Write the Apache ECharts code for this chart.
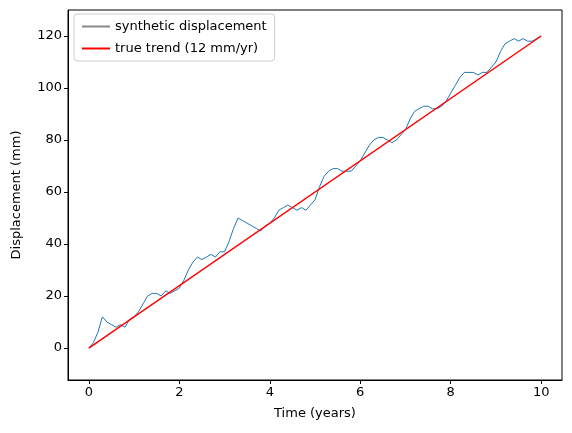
<!DOCTYPE html><html><head><meta charset="utf-8">
<script src="https://cdn.jsdelivr.net/npm/echarts@6/dist/echarts.min.js"></script>
<style>html,body{margin:0;padding:0;background:#fff}#c{width:572px;height:433px}</style></head><body><div id="c"></div>
<script>
const times = [];
for (let i = 0; i <= 100; i++) times.push(+(i/10).toFixed(1));
const displacement = [0,2,6,12,10,9,8,9,8,11,
12,14,17,20,21,21,20,22,21,22,
23,26,30,33,35,34,35,36,35,37,
37,41,46,50,49,48,47,46,45,47,
48,50,53,54,55,54,53,54,53,55,
57,62,66,68,69,69,68,68,68,70,
72,75,78,80,81,81,80,79,80,82,
84,88,91,92,93,93,92,92,93,95,
98,101,104,106,106,106,105,106,106,108,
110,114,117,118,119,118,119,118,118,119,120];
const trendX = [0,10];
const trendY = [0,120];
const xTicks = [0,2,4,6,8,10];
const yTicks = [0,20,40,60,80,100,120];
const ch = echarts.init(document.getElementById('c'));
const font = 'DejaVu Sans';
ch.setOption({
  animation:false,
  textStyle:{fontFamily:font},
  grid:{left:68,right:10,top:10,bottom:53,show:true,borderColor:'#000',borderWidth:1},
  legend:{left:74,top:14,orient:'vertical',itemGap:9,padding:[6,8,6,8],borderColor:'#ccc',borderWidth:1,borderRadius:3,
    itemWidth:28,itemHeight:2,icon:'rect',textStyle:{fontFamily:font,fontSize:13,color:'#000'},
    data:[{name:'synthetic displacement',itemStyle:{color:'#888'}},{name:'true trend (12 mm/yr)',itemStyle:{color:'#ff0000'}}]},
  xAxis:{type:'value',min:-0.46,max:10.46,name:'Time (years)',nameLocation:'middle',nameGap:27,
    nameTextStyle:{fontFamily:font,fontSize:13,color:'#000'},
    axisLine:{onZero:false,lineStyle:{color:'#000'}},splitLine:{show:false},
    axisTick:{customValues:xTicks,length:4,lineStyle:{color:'#000'}},
    axisLabel:{customValues:xTicks,color:'#000',fontSize:13,fontFamily:font,margin:6}},
  yAxis:{type:'value',min:-12.3,max:130,name:'Displacement (mm)',nameLocation:'middle',nameGap:45,
    nameTextStyle:{fontFamily:font,fontSize:13,color:'#000'},
    axisLine:{show:true,onZero:false,lineStyle:{color:'#000'}},splitLine:{show:false},
    axisTick:{show:true,length:4,customValues:yTicks,lineStyle:{color:'#000'}},
    axisLabel:{customValues:yTicks,color:'#000',fontSize:13,fontFamily:font,margin:6}},
  series:[
    {name:'synthetic displacement',type:'line',symbol:'none',color:'#1f77b4',lineStyle:{width:1,color:'#1f77b4'},
      data:times.map((t,i)=>[t,displacement[i]])},
    {name:'true trend (12 mm/yr)',type:'line',symbol:'none',color:'#ff0000',lineStyle:{width:1.5,color:'#ff0000'},
      data:trendX.map((t,i)=>[t,trendY[i]])}
  ]
});
</script></body></html>
